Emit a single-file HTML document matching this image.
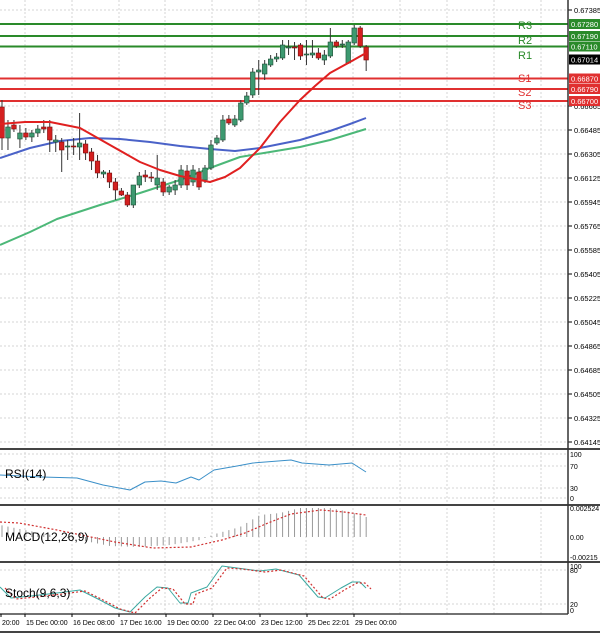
<!DOCTYPE html>
<html><head><meta charset="utf-8"><style>
html,body{margin:0;padding:0;background:#fff;}
svg{display:block;font-family:"Liberation Sans",Arial,sans-serif;}
</style></head><body>
<svg id="c" width="600" height="634" viewBox="0 0 600 634" xmlns="http://www.w3.org/2000/svg"></svg>
<script>
var s='';
function L(x1,y1,x2,y2,c,w,d){s+='<line x1="'+x1+'" y1="'+y1+'" x2="'+x2+'" y2="'+y2+'" stroke="'+c+'" stroke-width="'+(w||1)+'"'+(d?' stroke-dasharray="'+d+'"':'')+'/>';}
function T(x,y,t,sz,c,a){s+='<text x="'+x+'" y="'+y+'" font-size="'+sz+'" fill="'+(c||'#000')+'"'+(a?' text-anchor="'+a+'"':'')+'>'+t+'</text>';}
function P(pts,c,w,d){s+='<polyline fill="none" points="'+pts.map(function(p){return p[0]+','+p[1]}).join(' ')+'" stroke="'+c+'" stroke-width="'+w+'"'+(d?' stroke-dasharray="'+d+'"':'')+' stroke-linejoin="round"/>';}
var gx=[25,72,119,165,212,259,306,353,400,447,494,541];
gx.forEach(function(x){L(x,0,x,614,'#d4d4d4',1,'2,2');});
var labs=['0.67385','0.66665','0.66485','0.66305','0.66125','0.65945','0.65765','0.65585','0.65405','0.65225','0.65045','0.64865','0.64685','0.64505','0.64325','0.64145'];
function py(p){return 10+(0.67385-p)/0.000075;}
labs.forEach(function(l){var y=py(parseFloat(l));L(0,y,568,y,'#d4d4d4',1,'2,2');L(568,y,572,y,'#000');T(574,y+3,l,7.5);});
P([[0,245],[30,232],[57,219],[100,205],[140,193],[180,180],[210,168],[240,157],[270,152],[300,147],[330,140],[366,129]],'#4cb878',2);
P([[0,158],[30,148],[60,141],[90,138],[120,139],[150,142],[180,146],[210,149],[235,151],[260,148],[300,140],[330,131],[350,124],[366,118]],'#4a62c8',2);
var lv=[[24,'#2a8a2a','0.67280','R3',29],[36,'#2a8a2a','0.67190','R2',44],[46.5,'#2a8a2a','0.67110','R1',59],[78.5,'#e03030','0.66870','S1',82],[89,'#e03030','0.66790','S2',96],[101,'#e03030','0.66700','S3',109]];
lv.forEach(function(v){L(0,v[0],568,v[0],v[1],2);});
var cd=[[107,138,100,150],[138,127,120,150],[125,129,120,132],[139,133,125,148],[133,137,128,140],[137,133,130,142],[133,129,125,137],[127,129,120,133],[127,140,120,152],[142,140,135,152],[142,150,138,172],[147,146,140,160],[146,147,138,155],[147,143,113,160],[144,153,140,160],[152,161,148,170],[161,173,155,178],[174,172,170,178],[173,182,170,188],[182,190,178,200],[191,195,188,196],[195,205,192,207],[205,185,185,208],[185,176,172,188],[175,177,170,182],[177,178,172,182],[185,178,155,190],[182,192,178,196],[192,187,185,195],[190,185,180,195],[185,170,165,188],[171,185,165,190],[182,170,165,186],[172,187,168,190],[180,168,165,183],[168,145,140,170],[143,138,135,145],[140,120,115,142],[119,123,115,125],[125,119,115,127],[120,103,100,122],[103,96,92,105],[95,72,68,98],[72,70,60,95],[74,64,60,80],[65,59,55,67],[59,57,53,62],[58,45,40,60],[48,47,40,55],[47,48,42,60],[45,56,43,60],[55,54,40,65],[55,53,40,58],[53,58,48,60],[60,55,50,65],[56,42,28,58],[42,46,40,48],[45,44,40,48],[63,42,40,64],[43,28,25,45],[28,46,26,48],[47,60,45,71]];
cd.forEach(function(c,i){var x=2+i*5.97;var g=c[1]<c[0];L(x,c[2],x,c[3],'#333',1);var t=Math.min(c[0],c[1]),h=Math.max(1,Math.abs(c[0]-c[1]));s+='<rect x="'+(x-2.3)+'" y="'+t+'" width="4.6" height="'+h+'" fill="'+(g?'#3d9970':'#d42020')+'" stroke="'+(g?'#1d4d35':'#7a1010')+'" stroke-width="0.6"/>';});
P([[0,124],[25,122],[50,122],[80,128],[110,145],[140,162],[160,170],[180,176],[210,182],[225,177],[240,168],[260,148],[280,122],[300,100],[315,86],[330,73],[350,62],[366,53]],'#e02020',2);
lv.forEach(function(v){s+='<rect x="569" y="'+(v[0]-5)+'" width="31" height="10" fill="'+v[1]+'"/>';T(571,v[0]+3,v[2],7.5,'#fff');T(518,v[4],v[3],11,v[1]);});
s+='<rect x="569" y="54.5" width="31" height="10" fill="#000"/>';T(571,62.5,'0.67014',7.5,'#fff');
L(0,449,600,449,'#444',2);L(0,505,600,505,'#444',2);L(0,562,600,562,'#444',2);L(0,614,568,614,'#444',1.5);L(0,632,600,632,'#444',2);
L(568,0,568,614,'#333',1.5);
[[454,'100'],[466,'70'],[488,'30'],[498,'0']].forEach(function(a){L(0,a[0],568,a[0],'#d4d4d4',1,'2,2');T(570,a[0]+3,a[1],7);});
P([[0,475],[42,477],[77,478],[103,485],[130,490],[145,482],[161,481],[176,483],[191,477],[199,480],[214,470],[237,466],[253,463],[291,460],[302,463],[329,465],[352,463],[366,472]],'#3a8fc8',1);
T(5,478,'RSI(14)',12);
T(570,511,'0.002524',7);T(570,540,'0.00',7);T(570,560,'-0.00215',7);
var hp=[[0,525],[40,533],[80,540],[110,546],[140,547],[170,545],[200,540],[215,534],[240,527],[260,515],[280,513],[300,508],[330,508],[350,512],[366,517]];
function hi(x){for(var k=0;k<hp.length-1;k++){if(x<=hp[k+1][0]){var f=(x-hp[k][0])/(hp[k+1][0]-hp[k][0]);return hp[k][1]+f*(hp[k+1][1]-hp[k][1]);}}return hp[hp.length-1][1];}
for(var i=0;i<62;i++){var x=2+i*5.97;L(x,537,x,hi(x),'#999',1);}
P([[0,522],[19,523],[57,530],[115,542],[153,548],[191,547],[222,540],[245,533],[268,523],[291,514],[321,510],[344,512],[366,515]],'#d03030',1.2,'2,2');
T(5,541,'MACD(12,26,9)',12);
[[566,'100'],[570,'80'],[604,'20'],[610,'0']].forEach(function(a){T(570,a[0]+3,a[1],7);});
L(0,570,568,570,'#d4d4d4',1,'2,2');L(0,604,568,604,'#d4d4d4',1,'2,2');
var st=[[0,587],[11,598],[31,596],[57,593],[80,590],[100,600],[115,608],[130,612],[145,597],[157,587],[168,588],[180,603],[188,603],[191,593],[207,587],[222,566],[237,568],[260,571],[276,569],[299,575],[318,597],[325,598],[341,588],[352,582],[360,582],[366,588]];
P(st,'#3aa8a0',1);
P(st.map(function(p){return [p[0]+5,p[1]+(p[0]>215&&p[0]<230?2:1)];}),'#d03030',1.2,'2,2');
T(5,597,'Stoch(9,6,3)',12);
[[0,'20:00'],[24,'15 Dec 00:00'],[71,'16 Dec 08:00'],[118,'17 Dec 16:00'],[165,'19 Dec 00:00'],[212,'22 Dec 04:00'],[259,'23 Dec 12:00'],[306,'25 Dec 22:01'],[353,'29 Dec 00:00']].forEach(function(d){L(d[0]+1,614,d[0]+1,617,'#000');T(d[0]+2,625,d[1],7);});
document.getElementById('c').innerHTML=s;
</script>
</body></html>
